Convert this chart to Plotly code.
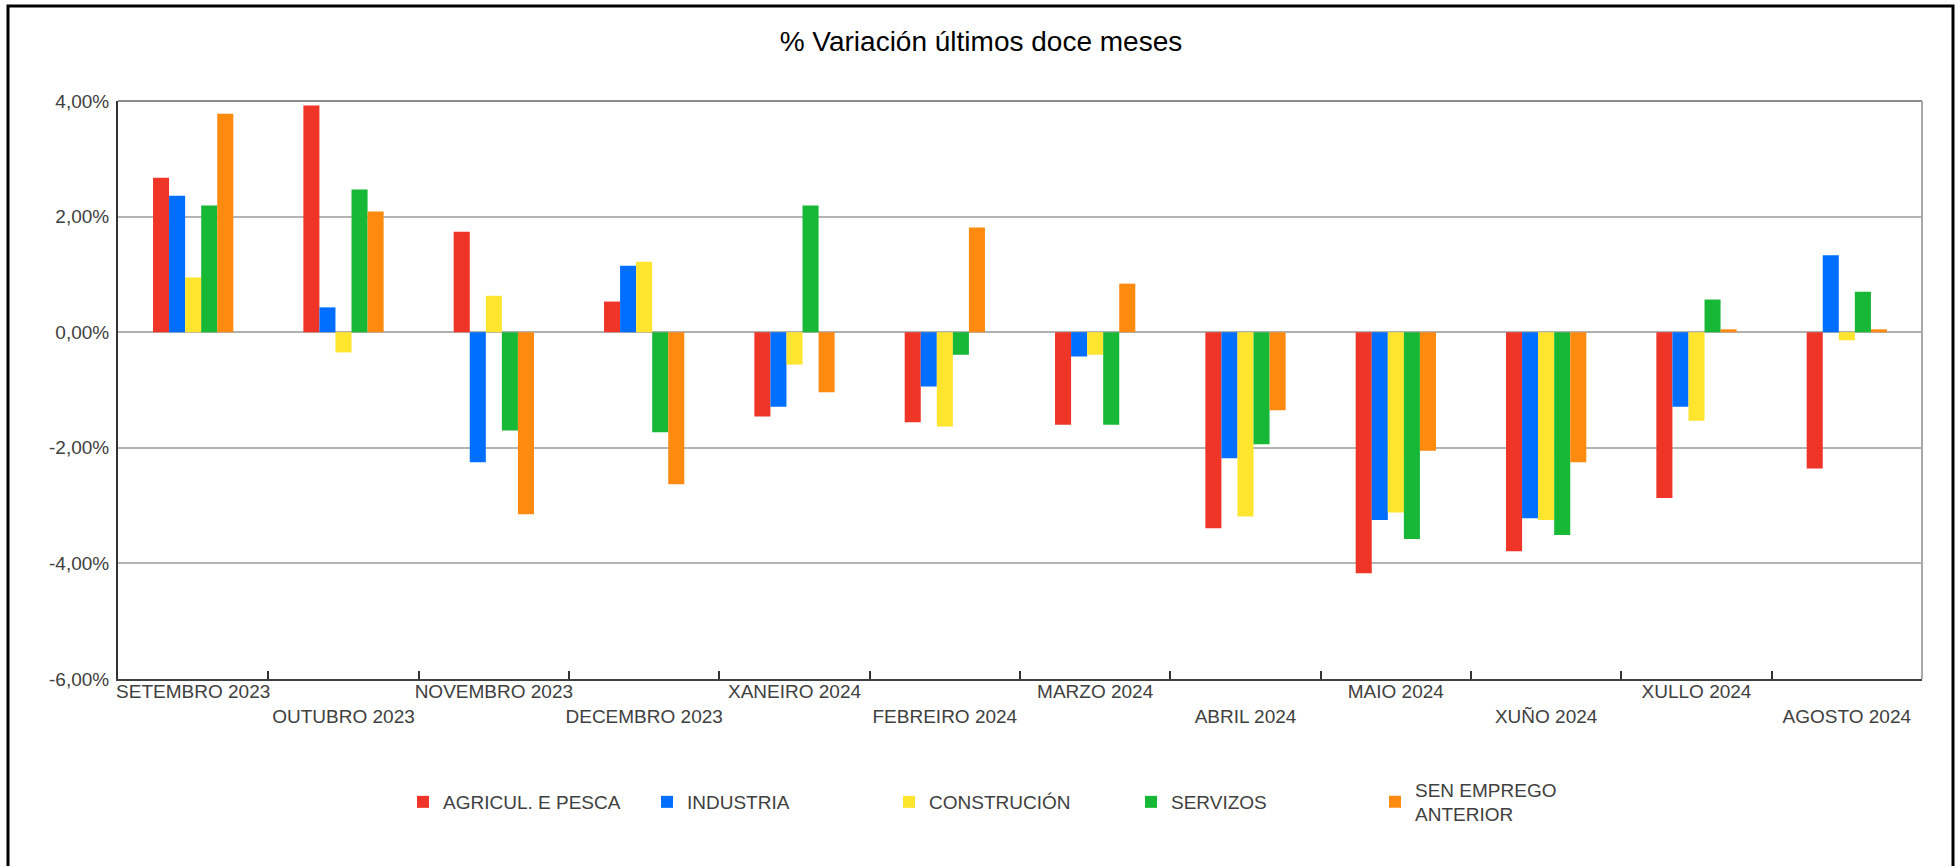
import plotly.graph_objects as go

months = ["SETEMBRO 2023", "OUTUBRO 2023", "NOVEMBRO 2023", "DECEMBRO 2023",
          "XANEIRO 2024", "FEBREIRO 2024", "MARZO 2024", "ABRIL 2024",
          "MAIO 2024", "XUÑO 2024", "XULLO 2024", "AGOSTO 2024"]

agricul = [2.67, 3.92, 1.74, 0.53, -1.46, -1.56, -1.60, -3.39, -4.17, -3.79, -2.87, -2.36]
industria = [2.36, 0.43, -2.25, 1.15, -1.29, -0.94, -0.42, -2.18, -3.25, -3.22, -1.29, 1.33]
construcion = [0.945, -0.35, 0.63, 1.22, -0.56, -1.63, -0.39, -3.19, -3.12, -3.25, -1.53, -0.14]
servizos = [2.19, 2.47, -1.70, -1.73, 2.19, -0.39, -1.60, -1.94, -3.58, -3.51, 0.565, 0.70]
sen_emprego = [3.78, 2.09, -3.15, -2.63, -1.04, 1.81, 0.84, -1.35, -2.05, -2.25, 0.05, 0.05]

series_names = ["AGRICUL. E PESCA", "INDUSTRIA", "CONSTRUCIÓN", "SERVIZOS", "SEN EMPREGO<br>ANTERIOR"]
series_values = [agricul, industria, construcion, servizos, sen_emprego]
colors = ["#EF3527", "#006EFF", "#FFE52E", "#17B835", "#FF8A10"]

y_tickvals = [4, 2, 0, -2, -4, -6]
y_ticktext = ["4,00%", "2,00%", "0,00%", "-2,00%", "-4,00%", "-6,00%"]

x_ticktext = [m if i % 2 == 0 else "<br>" + m for i, m in enumerate(months)]

FONT = "Liberation Sans, Arial, sans-serif"

W, H = 1958, 866
PL, PR, PT, PB = 118, 1922, 101, 679  # plot area in px
PW, PH = PR - PL, PB - PT

# legend key centres (px) in the reference
legend_centres = [426, 670, 912, 1154, 1398]
legend_y_px = 802

fig = go.Figure()
legend_ids = ["legend", "legend2", "legend3", "legend4", "legend5"]
for name, vals, col, lid in zip(series_names, series_values, colors, legend_ids):
    fig.add_trace(go.Bar(x=months, y=vals, name=name, legend=lid,
                         marker=dict(color=col, line=dict(width=0))))

legend_layouts = {}
for lid, cx in zip(legend_ids, legend_centres):
    legend_layouts[lid] = dict(
        orientation="v", x=(cx - 23 - PL) / PW, xanchor="left",
        y=(PB - legend_y_px) / PH, yanchor="middle",
        font=dict(family=FONT, size=19, color="#404040"),
        bgcolor="rgba(0,0,0,0)", borderwidth=0,
    )

fig.update_layout(
    width=W, height=H,
    margin=dict(l=PL, r=W - PR, t=PT, b=H - PB, autoexpand=False),
    paper_bgcolor="white", plot_bgcolor="white",
    barmode="group", bargap=0.466, bargroupgap=0,
    title=dict(text="% Variación últimos doce meses", x=0.501, xanchor="center",
               y=1 - 41 / H, yanchor="middle", yref="container",
               font=dict(family=FONT, size=28, color="#000000")),
    font=dict(family=FONT, size=19, color="#404040"),
    showlegend=True,
    **legend_layouts,
    xaxis=dict(tickmode="array", tickvals=months, ticktext=x_ticktext,
               tickson="boundaries", ticks="inside", ticklen=8, tickwidth=2, tickcolor="#333333",
               showline=True, linecolor="#404040", linewidth=2, showgrid=False,
               ticklabelstandoff=-6,
               tickfont=dict(family=FONT, size=19, color="#404040"), tickangle=0),
    yaxis=dict(range=[-6, 4], tickmode="array", tickvals=y_tickvals, ticktext=y_ticktext,
               showgrid=True, gridcolor="#B4B4B4", gridwidth=2,
               zeroline=True, zerolinecolor="#B0B0B0", zerolinewidth=2,
               showline=True, linecolor="#333333", linewidth=2, ticks="",
               ticklabelstandoff=3,
               tickfont=dict(family=FONT, size=19, color="#404040")),
    shapes=[
        dict(type="line", xref="paper", yref="paper", x0=0, x1=1, y0=1, y1=1,
             line=dict(color="#8C8C8C", width=2), layer="above"),
        dict(type="line", xref="paper", yref="paper", x0=1, x1=1, y0=0, y1=1,
             line=dict(color="#A8A8A8", width=2), layer="above"),
        dict(type="rect", xref="paper", yref="paper",
             x0=(8 - PL) / PW, x1=(1953 - PL) / PW,
             y0=-0.4, y1=(PB - 6) / PH,
             line=dict(color="#000000", width=3), fillcolor="rgba(0,0,0,0)", layer="above"),
    ],
)

fig.write_html("out.html", config={"displayModeBar": False},
               post_script="document.body.style.margin='0px';")
